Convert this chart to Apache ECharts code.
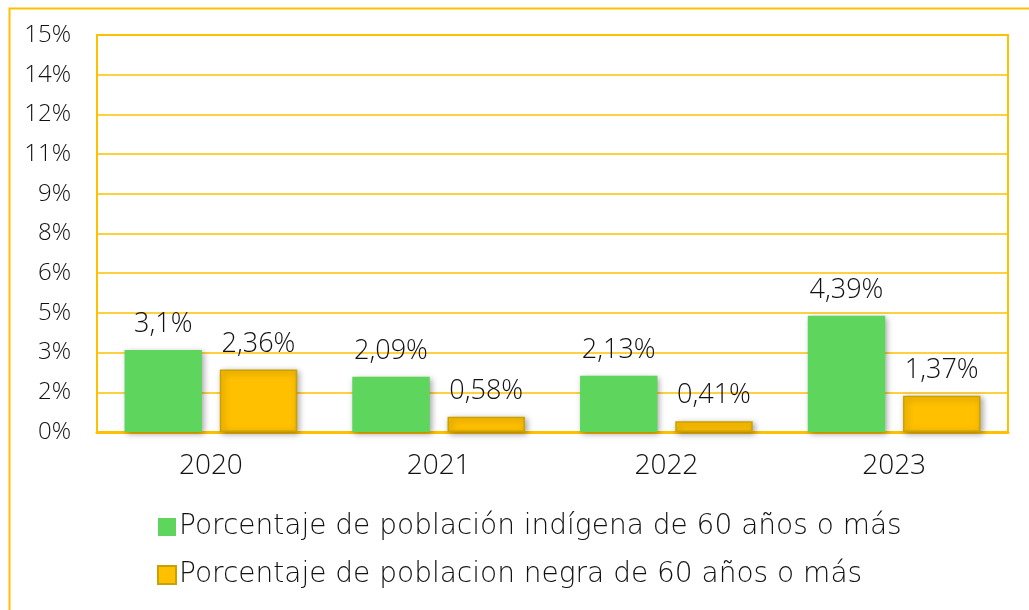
<!DOCTYPE html>
<html>
<head>
<meta charset="utf-8">
<script src="https://cdn.jsdelivr.net/npm/echarts@6/dist/echarts.min.js"></script>
<style>
html,body{margin:0;padding:0;background:#fff;}
#c{width:1029px;height:610px;}
</style>
</head>
<body>
<div id="c"></div>
<script>
const categories = ['2020', '2021', '2022', '2023'];
const indigenaValues = [3.1, 2.09, 2.13, 4.39];
const negraValues = [2.36, 0.58, 0.41, 1.37];
const indigenaLabels = ['3,1%', '2,09%', '2,13%', '4,39%'];
const negraLabels = ['2,36%', '0,58%', '0,41%', '1,37%'];
const yTickLabels = ['0%', '2%', '3%', '5%', '6%', '8%', '9%', '11%', '12%', '14%', '15%'];
const seriesNames = ['Porcentaje de población indígena de 60 años o más', 'Porcentaje de poblacion negra de 60 años o más'];

const FONT = '"Open Sans"';
const LFONT = '"DejaVu Sans"';
const chart = echarts.init(document.getElementById('c'), null, {renderer: 'canvas'});
chart.setOption({
  animation: false,
  backgroundColor: '#fff',
  textStyle: {fontFamily: FONT, fontWeight: 300, color: '#111'},
  graphic: [{
    type: 'rect', left: 7, top: 6, silent: true,
    shape: {width: 1100, height: 700},
    style: {fill: 'none', stroke: '#FFC000', lineWidth: 2}
  }],
  grid: {left: 97, top: 35, right: 21, bottom: 178, show: true, borderColor: '#FFC000', borderWidth: 2},
  legend: {
    orient: 'vertical', left: 152, top: 508,
    icon: 'rect',
    itemWidth: 18, itemHeight: 18, itemGap: 20,
    textStyle: {fontSize: 28, fontFamily: LFONT, fontWeight: 200, color: '#111', padding: [0, 0, 0, -2]},
    data: seriesNames
  },
  xAxis: {
    type: 'category', data: categories,
    axisLine: {show: true, lineStyle: {color: '#FFC000', width: 3}},
    axisTick: {show: false},
    axisLabel: {fontSize: 28, color: '#111', fontFamily: FONT, fontWeight: 300, margin: 20}
  },
  yAxis: {
    type: 'value', min: 0, max: 15, interval: 1.5,
    axisLine: {show: false}, axisTick: {show: false},
    splitLine: {lineStyle: {color: '#FFC000', width: 1.5}},
    axisLabel: {
      fontSize: 24, color: '#111', fontFamily: FONT, fontWeight: 300, margin: 26,
      formatter: v => yTickLabels[Math.round(v / 1.5)]
    }
  },
  series: [{
    name: seriesNames[0], type: 'bar', data: indigenaValues,
    barWidth: '34%', barGap: '23%',
    itemStyle: {color: '#5ED65E', shadowBlur: 6, shadowColor: 'rgba(0,0,0,0.35)', shadowOffsetX: 2, shadowOffsetY: 2},
    label: {show: true, position: 'top', distance: 12, fontSize: 27, fontFamily: FONT, fontWeight: 300, color: '#111',
      formatter: p => indigenaLabels[p.dataIndex]}
  }, {
    name: seriesNames[1], type: 'bar', data: negraValues,
    barWidth: '34%',
    itemStyle: {color: '#FFC000', borderColor: '#C9A100', borderWidth: 1.5, shadowBlur: 6, shadowColor: 'rgba(0,0,0,0.35)', shadowOffsetX: 2, shadowOffsetY: 2},
    label: {show: true, position: 'top', distance: 12, fontSize: 27, fontFamily: FONT, fontWeight: 300, color: '#111',
      formatter: p => negraLabels[p.dataIndex]}
  }]
});
</script>
</body>
</html>
